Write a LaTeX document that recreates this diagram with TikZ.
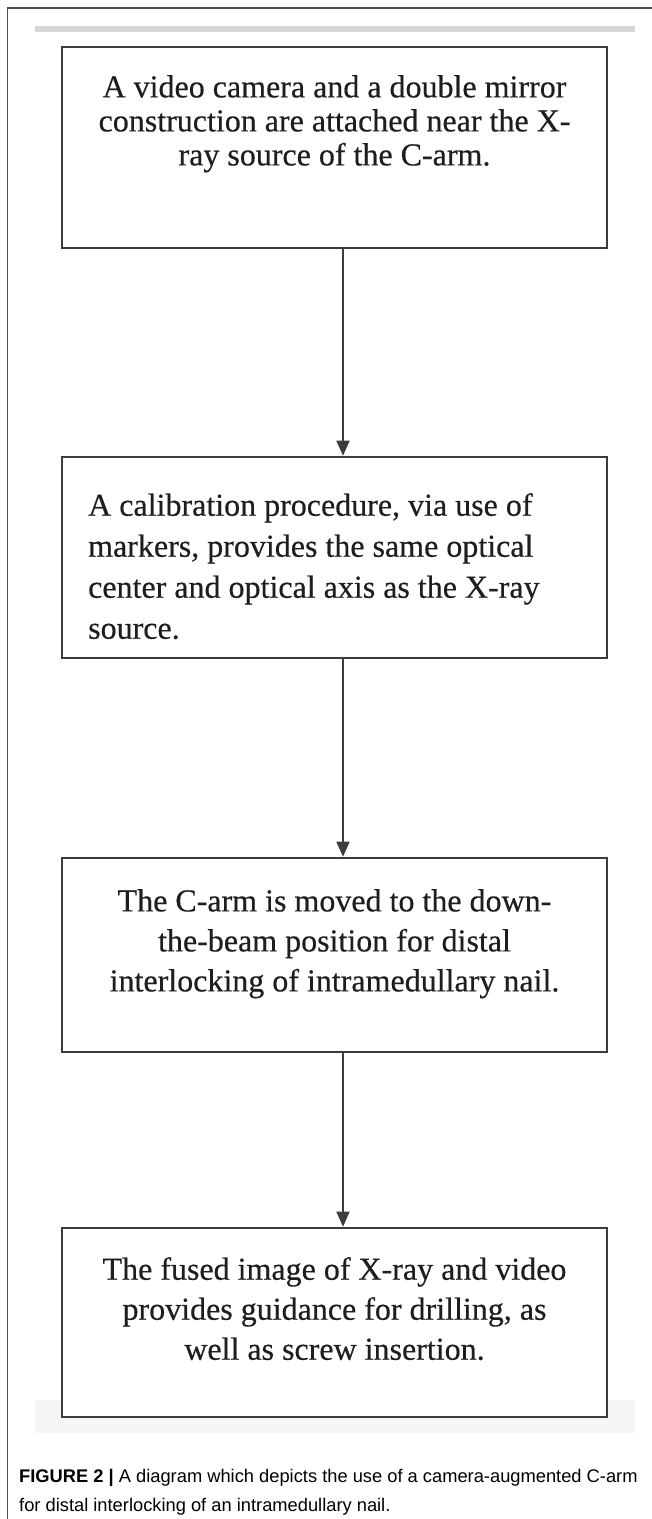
\documentclass[tikz,border=0pt]{standalone}
\usepackage{fontspec}
\setmainfont{Liberation Serif}
\newfontfamily\boxfont[FakeBold=0.4]{Liberation Serif}
\newfontfamily\capfont{Liberation Sans}
\usetikzlibrary{arrows.meta}
\definecolor{boxline}{HTML}{3C3C3C}
\definecolor{frameline}{HTML}{505050}
\definecolor{txtcol}{HTML}{1E1E1E}
\definecolor{barcol}{HTML}{D6D6D6}
\definecolor{shadecol}{HTML}{F5F5F5}
\begin{document}
\begin{tikzpicture}[x=1pt,y=1pt,
  stepbox/.style={draw=boxline, line width=2.6pt, minimum width=545pt, inner sep=0pt, fill=white},
  boxtext/.style={inner sep=0pt, text=txtcol, font=\boxfont\fontsize{32}{40}\selectfont},
  flow/.style={draw=boxline, line width=1.6pt, -{Triangle[width=13pt,length=15pt]}},
  captext/.style={inner sep=0pt, anchor=north west, align=left, text=black, font=\capfont\fontsize{18.3}{29}\selectfont}
]
\useasboundingbox (0,0) rectangle (652,-1519);
\fill[white] (0,0) rectangle (652,-1519);
% outer frame
\draw[frameline, line width=1.5pt] (7.5,-1519) -- (7.5,-8) -- (652,-8);
% image edge shading
\fill[barcol] (35,-26) rectangle (635,-32);
\fill[shadecol] (35,-1400) rectangle (635,-1433);
% boxes
\node[stepbox, minimum height=201pt] (b1) at (334.5,-147.5) {};
\node[stepbox, minimum height=201pt] (b2) at (334.5,-557.5) {};
\node[stepbox, minimum height=194pt] (b3) at (334.5,-955) {};
\node[stepbox, minimum height=189pt] (b4) at (334.5,-1322.5) {};
% texts
\node[boxtext, anchor=north, align=center, font=\boxfont\fontsize{32}{34}\selectfont] (t1) at (334.5,-75)
  {A video camera and a double mirror\\construction are attached near the X-\\ray source of the C-arm.};
\node[boxtext, anchor=north west, align=left, font=\boxfont\fontsize{32}{41}\selectfont] (t2) at (88,-493)
  {A calibration procedure, via use of\\markers, provides the same optical\\center and optical axis as the X-ray\\source.};
\node[boxtext, anchor=north, align=center] (t3) at (334.5,-889)
  {The C-arm is moved to the down-\\the-beam position for distal\\interlocking of intramedullary nail.};
\node[boxtext, anchor=north, align=center] (t4) at (334.5,-1257)
  {The fused image of X-ray and video\\provides guidance for drilling, as\\well as screw insertion.};
% connectors
\coordinate (ax) at (343,0);
\draw[flow] (b1.south -| ax) -- (b2.north -| ax);
\draw[flow] (b2.south -| ax) -- (b3.north -| ax);
\draw[flow] (b3.south -| ax) -- (b4.north -| ax);
% caption
\node[captext] (cap) at (19,-1469.5)
  {{\bfseries FIGURE 2 |} A diagram which depicts the use of a camera-augmented C-arm\\for distal interlocking of an intramedullary nail.};
\end{tikzpicture}
\end{document}
